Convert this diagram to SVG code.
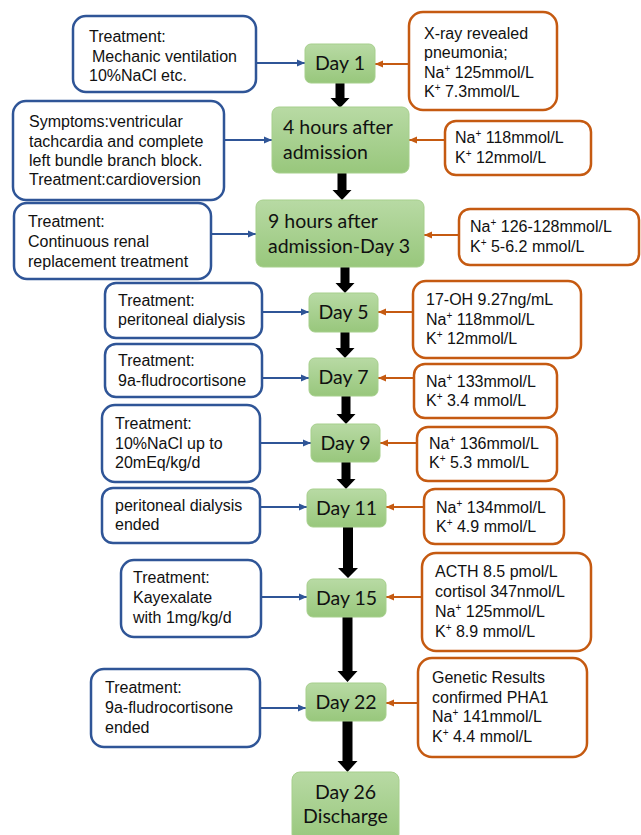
<svg xmlns="http://www.w3.org/2000/svg" width="641" height="835" viewBox="0 0 641 835">
<style>
.bl{fill:#fff;stroke:#2f5597;stroke-width:2.5}
.or{fill:#fff;stroke:#c55a11;stroke-width:2.5}
.gr{fill:url(#g);stroke:#a6cf8c;stroke-width:1}
.t{font-family:"Liberation Sans",Arial,sans-serif;font-size:16px;fill:#111}
.d{font-family:Lato,"Noto Sans",sans-serif;font-size:19.5px;fill:#111}
.c{text-anchor:middle}
.bc{stroke:#2f5597;stroke-width:2;fill:none;marker-end:url(#mb)}
.oc{stroke:#c55a11;stroke-width:2;fill:none;marker-end:url(#mo)}
.ba{fill:#000}
.s{font-size:10px}
</style>
<defs>
<linearGradient id="g" x1="0" y1="0" x2="0" y2="1">
<stop offset="0" stop-color="#b8daa4"/>
<stop offset="1" stop-color="#98c77c"/>
</linearGradient>
<marker id="mb" markerUnits="userSpaceOnUse" markerWidth="10" markerHeight="10" refX="9" refY="5" orient="auto"><path d="M1,1.5 L9,5 L1,8.5 Z" fill="#2f5597"/></marker>
<marker id="mo" markerUnits="userSpaceOnUse" markerWidth="10" markerHeight="10" refX="9" refY="5" orient="auto"><path d="M1,1.5 L9,5 L1,8.5 Z" fill="#c55a11"/></marker>
</defs>

<g id="connectors">
<path class="bc" d="M256,63 H305"/>
<path class="bc" d="M224,140 H272"/>
<path class="bc" d="M211,234 H256"/>
<path class="bc" d="M262,312 H309"/>
<path class="bc" d="M262,378 H309"/>
<path class="bc" d="M260,443 H311"/>
<path class="bc" d="M260,507 H307"/>
<path class="bc" d="M261,597 H307"/>
<path class="bc" d="M260,708 H306"/>
<path class="oc" d="M409,64 H375"/>
<path class="oc" d="M445,140 H409"/>
<path class="oc" d="M459,235 H424"/>
<path class="oc" d="M413,312 H378"/>
<path class="oc" d="M414,378 H378"/>
<path class="oc" d="M417,443 H380"/>
<path class="oc" d="M424,507 H386"/>
<path class="oc" d="M422,597 H386"/>
<path class="oc" d="M418,703 H386"/>
<path class="ba" d="M335.5,83 H344.5 V98 H349.5 L340,108 L330.5,98 H335.5 Z"/>
<path class="ba" d="M337.5,173 H346.5 V190 H351.5 L342,200 L332.5,190 H337.5 Z"/>
<path class="ba" d="M340.5,267 H349.5 V283 H354.5 L345,293 L335.5,283 H340.5 Z"/>
<path class="ba" d="M340.5,332 H349.5 V348 H354.5 L345,358 L335.5,348 H340.5 Z"/>
<path class="ba" d="M341.5,396 H350.5 V414 H355.5 L346,424 L336.5,414 H341.5 Z"/>
<path class="ba" d="M341.5,462 H350.5 V479 H355.5 L346,489 L336.5,479 H341.5 Z"/>
<path class="ba" d="M343,527 H353 V568 H358 L348,578 L338,568 H343 Z"/>
<path class="ba" d="M342.5,617 H352.5 V671 H357.5 L347.5,682 L337.5,671 H342.5 Z"/>
<path class="ba" d="M342.5,721 H352.5 V761 H357.5 L347.5,772 L337.5,761 H342.5 Z"/>
</g>

<g id="day1"><rect class="gr" x="305" y="44" width="70" height="39" rx="6"/><text class="d c" x="340" y="70">Day 1</text></g>
<g id="h4"><rect class="gr" x="272" y="107" width="137" height="66" rx="7"/><text class="d" x="283" y="134">4 hours after</text><text class="d" x="283" y="159">admission</text></g>
<g id="h9"><rect class="gr" x="256" y="200" width="168" height="67" rx="7"/><text class="d" x="268" y="228">9 hours after</text><text class="d" x="268" y="253">admission-Day 3</text></g>
<g id="day5"><rect class="gr" x="309" y="293" width="69" height="39" rx="6"/><text class="d c" x="343.5" y="319">Day 5</text></g>
<g id="day7"><rect class="gr" x="309" y="358" width="69" height="38" rx="6"/><text class="d c" x="343.5" y="384">Day 7</text></g>
<g id="day9"><rect class="gr" x="311" y="424" width="69" height="38" rx="6"/><text class="d c" x="345.5" y="450">Day 9</text></g>
<g id="day11"><rect class="gr" x="307" y="489" width="79" height="38" rx="6"/><text class="d c" x="346.5" y="515">Day 11</text></g>
<g id="day15"><rect class="gr" x="307" y="579" width="79" height="38" rx="6"/><text class="d c" x="346.5" y="605">Day 15</text></g>
<g id="day22"><rect class="gr" x="306" y="683" width="80" height="38" rx="6"/><text class="d c" x="346" y="709">Day 22</text></g>
<g id="day26"><rect class="gr" x="292" y="772" width="107" height="70" rx="8"/><text class="d c" x="345.5" y="799">Day 26</text><text class="d c" x="345.5" y="823">Discharge</text></g>

<g id="l1"><rect class="bl" x="73" y="16" width="183" height="76" rx="13"/><text class="t" x="89" y="42">Treatment:</text><text class="t" x="92" y="61.5">Mechanic ventilation</text><text class="t" x="89" y="81">10%NaCl etc.</text></g>
<g id="l2"><rect class="bl" x="13" y="101" width="211" height="99" rx="13"/><text class="t" x="29" y="127">Symptoms:ventricular</text><text class="t" x="29" y="146.5">tachcardia and complete</text><text class="t" x="29" y="166">left bundle branch block.</text><text class="t" x="29" y="185">Treatment:cardioversion</text></g>
<g id="l3"><rect class="bl" x="14" y="203" width="197" height="76" rx="13"/><text class="t" x="28" y="227">Treatment:</text><text class="t" x="28" y="247">Continuous renal</text><text class="t" x="28" y="267">replacement treatment</text></g>
<g id="l4"><rect class="bl" x="105" y="283" width="157" height="55" rx="11"/><text class="t" x="118" y="306">Treatment:</text><text class="t" x="118" y="325">peritoneal dialysis</text></g>
<g id="l5"><rect class="bl" x="105" y="344" width="157" height="53" rx="11"/><text class="t" x="118" y="366">Treatment:</text><text class="t" x="118" y="386">9a-fludrocortisone</text></g>
<g id="l6"><rect class="bl" x="102" y="405" width="158" height="77" rx="13"/><text class="t" x="115" y="429">Treatment:</text><text class="t" x="115" y="448.5">10%NaCl up to</text><text class="t" x="115" y="468">20mEq/kg/d</text></g>
<g id="l7"><rect class="bl" x="102" y="488" width="158" height="55" rx="11"/><text class="t" x="115" y="511">peritoneal dialysis</text><text class="t" x="115" y="530">ended</text></g>
<g id="l8"><rect class="bl" x="121" y="560" width="140" height="77" rx="13"/><text class="t" x="133" y="583">Treatment:</text><text class="t" x="133" y="603">Kayexalate</text><text class="t" x="133" y="623">with 1mg/kg/d</text></g>
<g id="l9"><rect class="bl" x="91" y="669" width="169" height="78" rx="13"/><text class="t" x="105" y="693">Treatment:</text><text class="t" x="105" y="713">9a-fludrocortisone</text><text class="t" x="105" y="733">ended</text></g>

<g id="r1"><rect class="or" x="409" y="12" width="148" height="98" rx="14"/><text class="t" x="424" y="39">X-ray revealed</text><text class="t" x="424" y="58">pneumonia;</text><text class="t" x="424" y="77.5">Na<tspan class="s" dy="-6">+</tspan><tspan dy="6"> 125mmol/L</tspan></text><text class="t" x="424" y="97">K<tspan class="s" dy="-6">+</tspan><tspan dy="6"> 7.3mmol/L</tspan></text></g>
<g id="r2"><rect class="or" x="445" y="121" width="146" height="54" rx="11"/><text class="t" x="455" y="143">Na<tspan class="s" dy="-6">+</tspan><tspan dy="6"> 118mmol/L</tspan></text><text class="t" x="455" y="163">K<tspan class="s" dy="-6">+</tspan><tspan dy="6"> 12mmol/L</tspan></text></g>
<g id="r3"><rect class="or" x="459" y="209" width="180" height="56" rx="11"/><text class="t" x="470" y="232">Na<tspan class="s" dy="-6">+</tspan><tspan dy="6"> 126-128mmol/L</tspan></text><text class="t" x="470" y="252">K<tspan class="s" dy="-6">+</tspan><tspan dy="6"> 5-6.2 mmol/L</tspan></text></g>
<g id="r4"><rect class="or" x="413" y="281" width="168" height="77" rx="13"/><text class="t" x="426" y="305">17-OH 9.27ng/mL</text><text class="t" x="426" y="325">Na<tspan class="s" dy="-6">+</tspan><tspan dy="6"> 118mmol/L</tspan></text><text class="t" x="426" y="344">K<tspan class="s" dy="-6">+</tspan><tspan dy="6"> 12mmol/L</tspan></text></g>
<g id="r5"><rect class="or" x="414" y="364" width="143" height="54" rx="11"/><text class="t" x="426" y="387">Na<tspan class="s" dy="-6">+</tspan><tspan dy="6"> 133mmol/L</tspan></text><text class="t" x="426" y="406">K<tspan class="s" dy="-6">+</tspan><tspan dy="6"> 3.4 mmol/L</tspan></text></g>
<g id="r6"><rect class="or" x="417" y="427" width="140" height="54" rx="11"/><text class="t" x="429" y="449">Na<tspan class="s" dy="-6">+</tspan><tspan dy="6"> 136mmol/L</tspan></text><text class="t" x="429" y="468">K<tspan class="s" dy="-6">+</tspan><tspan dy="6"> 5.3 mmol/L</tspan></text></g>
<g id="r7"><rect class="or" x="424" y="489" width="140" height="55" rx="11"/><text class="t" x="436" y="513">Na<tspan class="s" dy="-6">+</tspan><tspan dy="6"> 134mmol/L</tspan></text><text class="t" x="436" y="532">K<tspan class="s" dy="-6">+</tspan><tspan dy="6"> 4.9 mmol/L</tspan></text></g>
<g id="r8"><rect class="or" x="422" y="553" width="169" height="98" rx="14"/><text class="t" x="435" y="577">ACTH 8.5 pmol/L</text><text class="t" x="435" y="597">cortisol 347nmol/L</text><text class="t" x="435" y="617">Na<tspan class="s" dy="-6">+</tspan><tspan dy="6"> 125mmol/L</tspan></text><text class="t" x="435" y="637">K<tspan class="s" dy="-6">+</tspan><tspan dy="6"> 8.9 mmol/L</tspan></text></g>
<g id="r9"><rect class="or" x="418" y="658" width="169" height="99" rx="14"/><text class="t" x="432" y="683">Genetic Results</text><text class="t" x="432" y="703">confirmed PHA1</text><text class="t" x="432" y="722">Na<tspan class="s" dy="-6">+</tspan><tspan dy="6"> 141mmol/L</tspan></text><text class="t" x="432" y="742">K<tspan class="s" dy="-6">+</tspan><tspan dy="6"> 4.4 mmol/L</tspan></text></g>
</svg>
